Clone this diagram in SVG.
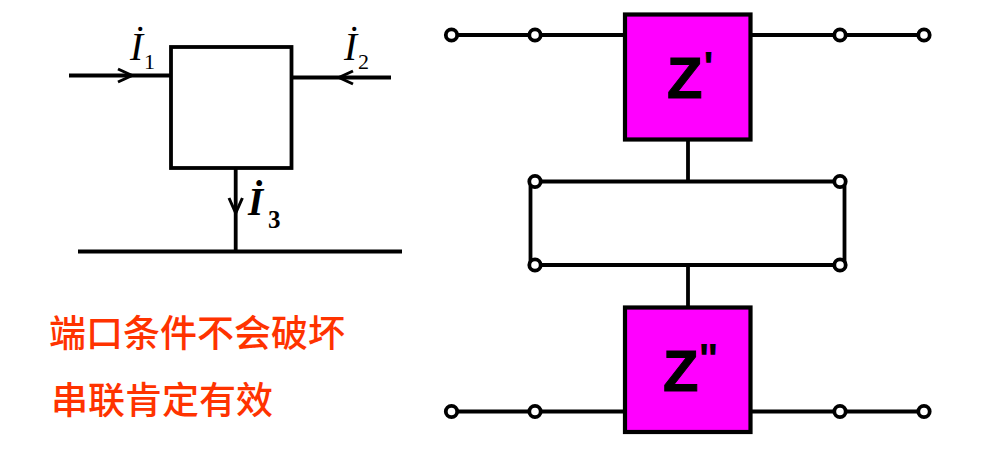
<svg xmlns="http://www.w3.org/2000/svg" width="999" height="450" viewBox="0 0 999 450">
<style>
.w{fill:none;stroke:#000;stroke-width:3.8}
.a{fill:none;stroke:#000;stroke-width:3}
.t{fill:#fff;stroke:#000;stroke-width:3.8}
.z{fill:#f0f;stroke:#000;stroke-width:4.200}
.zt{font:bold 58px "Liberation Sans",sans-serif;fill:#000;stroke:#000;stroke-width:1}
.zp{font-size:42px;stroke-width:0}
.cn{font:500 37px "Noto Sans CJK SC",sans-serif;fill:#f30}
.i{font:italic 39px "Liberation Serif",serif;fill:#000}
.ib{font:italic bold 39px "Liberation Serif",serif;fill:#000}
.s{font:22px "Liberation Serif",serif;fill:#000}
.s3{font:bold 25px "Liberation Serif",serif;fill:#000}
</style>
<rect width="999" height="450" fill="#fff"/>
<g id="connectors">
<path class="w" d="M69 75.500H171M290 77.500H391M235.700 168V251.500M78 251.500H402"/>
<path class="a" d="M118 69L132 75.500L118 82M353 71L339 77.500L353 84M229 198L235.700 213L242.400 198"/>
<path class="w" d="M457 35H530M541 35H625M751 35H834M845 35H918M457 411.500H530M541 411.500H625M751 411.500H834M845 411.500H918M688 139V181.500M688 265V307"/>
<path class="w" d="M530.500 181.500H844.500V265H530.500Z"/>
</g>
<g id="box"><rect class="w" x="171" y="47" width="120.500" height="121"/></g>
<g id="labels">
<text class="i" x="130" y="60">İ</text><text class="s" x="144" y="69">1</text>
<text class="i" x="344" y="60">İ</text><text class="s" x="358" y="69">2</text>
<text class="ib" x="248" y="215">İ</text><text class="s3" x="268" y="228">3</text>
</g>
<g id="z1"><rect class="z" x="625" y="14.500" width="125.500" height="125"/><text class="zt" x="667" y="98">Z<tspan class="zp" dy="-17" dx="1">'</tspan></text></g>
<g id="z2"><rect class="z" x="625" y="307.500" width="125.500" height="124.500"/><text class="zt" x="663" y="391">Z<tspan class="zp" dy="-18" dx="0">"</tspan></text></g>
<g id="terminals" class="t">
<circle cx="451.500" cy="35" r="5.700"/><circle cx="535" cy="35" r="5.700"/><circle cx="840" cy="35" r="5.700"/><circle cx="924" cy="35" r="5.700"/>
<circle cx="535" cy="181.500" r="5.700"/><circle cx="840" cy="181.500" r="5.700"/><circle cx="535" cy="265" r="5.700"/><circle cx="840" cy="265" r="5.700"/>
<circle cx="451.500" cy="411.500" r="5.700"/><circle cx="535" cy="411.500" r="5.700"/><circle cx="840" cy="411.500" r="5.700"/><circle cx="924" cy="411.500" r="5.700"/>
</g>
<text class="cn" x="49" y="347">端口条件不会破坏</text>
<text class="cn" x="51" y="414">串联肯定有效</text>
</svg>
